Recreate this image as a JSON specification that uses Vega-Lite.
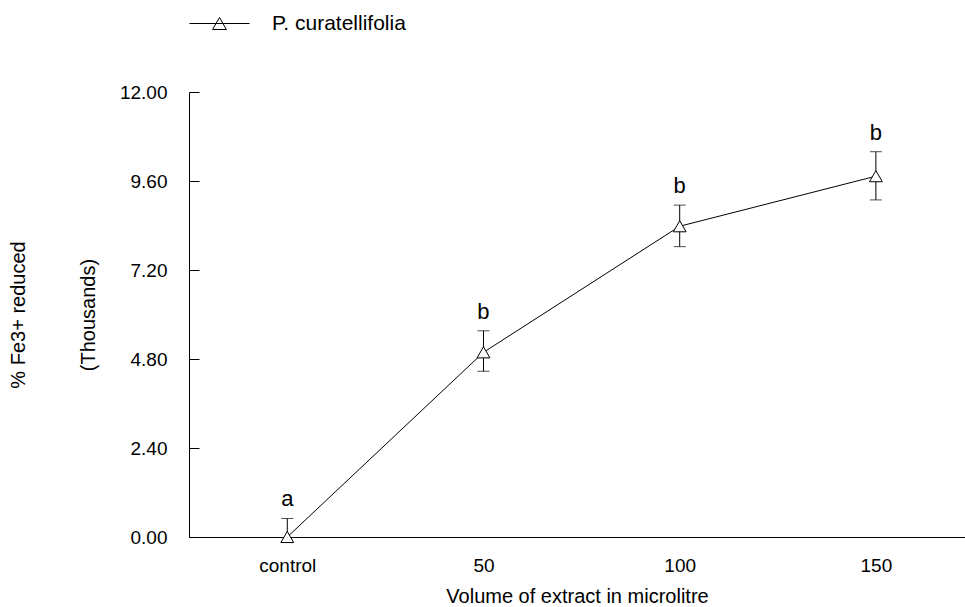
{
  "$schema": "https://vega.github.io/schema/vega-lite/v6.json",
  "width": 776,
  "height": 445,
  "autosize": {"type": "none"},
  "padding": {"left": 189, "top": 92, "right": 0, "bottom": 70},
  "background": "white",
  "config": {
    "view": {"stroke": null},
    "font": "Liberation Sans",
    "axis": {"labelFont": "Liberation Sans", "titleFont": "Liberation Sans", "labelColor": "black", "titleColor": "black", "titleFontWeight": "normal", "domainColor": "black", "tickColor": "black", "grid": false}
  },
  "data": {
    "values": [
      {"volume": "control", "series": "P. curatellifolia", "reduced": 0.0, "lo": 0.0, "hi": 0.5, "group": "a"},
      {"volume": "50", "series": "P. curatellifolia", "reduced": 4.98, "lo": 4.47, "hi": 5.56, "group": "b"},
      {"volume": "100", "series": "P. curatellifolia", "reduced": 8.38, "lo": 7.83, "hi": 8.95, "group": "b"},
      {"volume": "150", "series": "P. curatellifolia", "reduced": 9.73, "lo": 9.09, "hi": 10.39, "group": "b"}
    ]
  },
  "encoding": {
    "x": {
      "field": "volume", "type": "ordinal", "sort": ["control", "50", "100", "150"],
      "scale": {"type": "point", "padding": 0.4776, "align": 0.5245},
      "axis": {"title": "Volume of extract in microlitre", "labelAngle": 0, "ticks": false, "labelFontSize": 19, "labelPadding": 19, "titleFontSize": 20, "titlePadding": 11, "domainWidth": 1}
    }
  },
  "layer": [
    {
      "mark": {"type": "line", "color": "black", "strokeWidth": 1},
      "encoding": {
        "y": {
          "field": "reduced", "type": "quantitative",
          "scale": {"domain": [0, 12], "nice": false, "zero": false},
          "axis": {
            "title": ["% Fe3+ reduced", "(Thousands)"],
            "titleLineHeight": 70, "titleFontSize": 20, "titleAngle": -90,
            "titleBaseline": "middle", "titleAlign": "center",
            "titleX": -171, "titleY": 222.5,
            "values": [0, 2.4, 4.8, 7.2, 9.6, 12], "format": ".2f",
            "tickSize": -10, "labelPadding": 32, "labelFontSize": 19
          }
        }
      }
    },
    {
      "mark": {"type": "rule", "color": "black", "strokeWidth": 1},
      "encoding": {"y": {"field": "lo", "type": "quantitative"}, "y2": {"field": "hi"}}
    },
    {
      "mark": {"type": "tick", "color": "black", "orient": "horizontal", "size": 12, "thickness": 1},
      "encoding": {"y": {"field": "hi", "type": "quantitative"}}
    },
    {
      "transform": [{"filter": "datum.volume != 'control'"}],
      "mark": {"type": "tick", "color": "black", "orient": "horizontal", "size": 12, "thickness": 1},
      "encoding": {"y": {"field": "lo", "type": "quantitative"}}
    },
    {
      "mark": {"type": "point", "shape": "triangle-up", "size": 165, "filled": true, "fill": "white", "strokeWidth": 1, "opacity": 1},
      "encoding": {
        "y": {"field": "reduced", "type": "quantitative"},
        "stroke": {
          "field": "series", "type": "nominal",
          "scale": {"range": ["black"]},
          "legend": {
            "title": null, "orient": "none", "legendX": 0, "legendY": -99,
            "symbolType": "M-1,0L1,0M0,-0.2L0.23,0.2L-0.23,0.2Z",
            "symbolSize": 3600, "symbolStrokeWidth": 1, "symbolFillColor": "white", "symbolStrokeColor": "black",
            "labelFontSize": 21, "labelFont": "Liberation Sans", "labelColor": "black", "labelOffset": 22, "padding": 0, "offset": 0
          }
        }
      }
    },
    {
      "mark": {"type": "text", "fontSize": 22, "font": "Liberation Sans", "color": "black", "baseline": "alphabetic", "dy": -12},
      "encoding": {"y": {"field": "hi", "type": "quantitative"}, "text": {"field": "group"}}
    }
  ]
}
